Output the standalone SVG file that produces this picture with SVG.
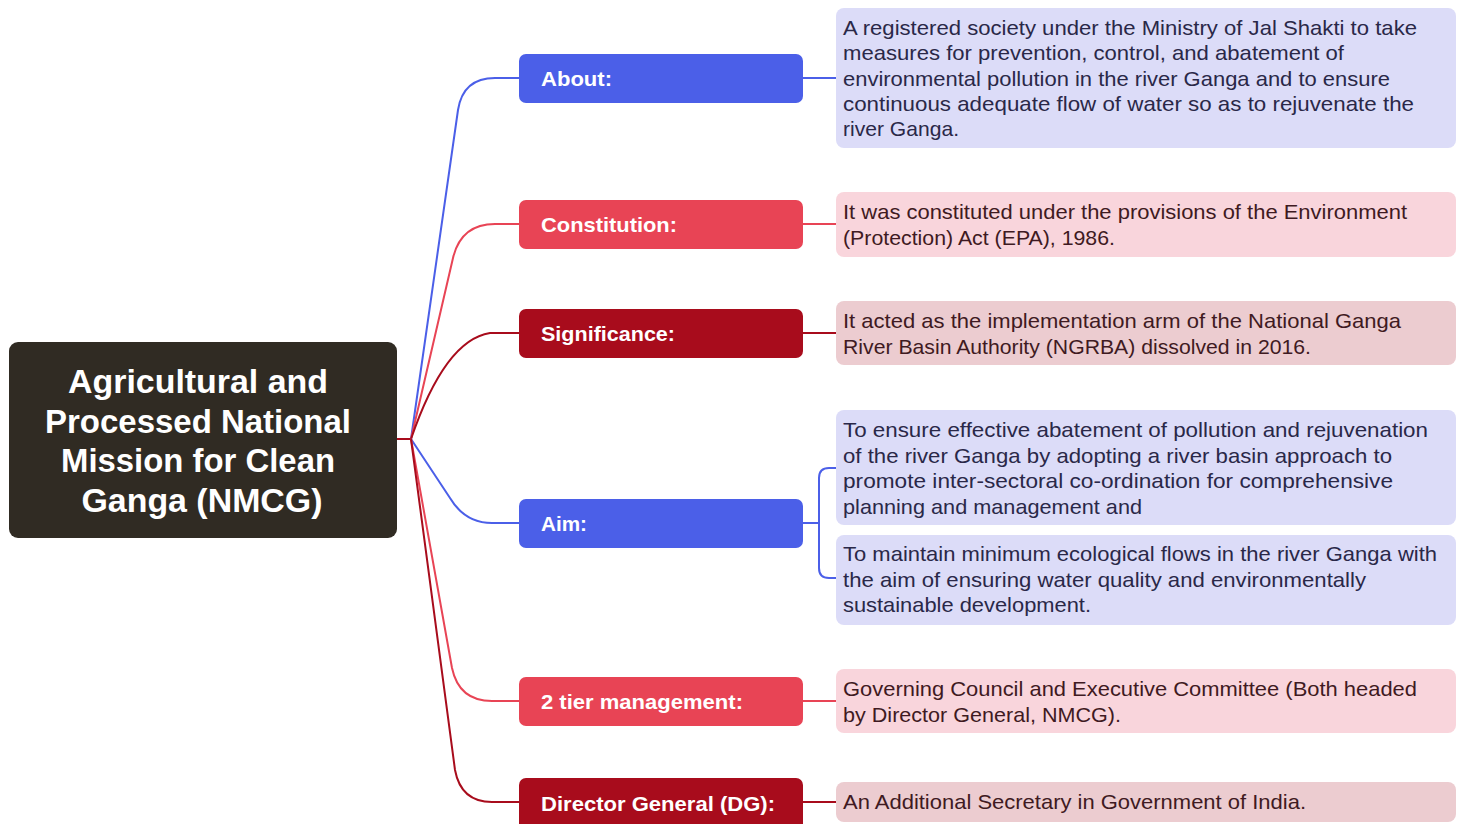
<svg xmlns="http://www.w3.org/2000/svg" width="1461" height="824" viewBox="0 0 1461 824">
<style>
.root{fill:#302b23}
.rt{font-family:"Liberation Sans",Arial,sans-serif;font-weight:bold;font-size:33px;fill:#fff;text-anchor:middle}
.bt{font-family:"Liberation Sans",Arial,sans-serif;font-weight:bold;font-size:21px;fill:#fff}
.lt{font-family:"Liberation Sans",Arial,sans-serif;font-size:21px;fill:#2a2848}
.lp{font-family:"Liberation Sans",Arial,sans-serif;font-size:21px;fill:#3f1a22}
.blue{fill:#4b5fe8}.red{fill:#e84455}.dred{fill:#a80c1c}
.lav{fill:#dcdcf8}.pink{fill:#f9d5dc}.dpink{fill:#ecccd0}
.cb{stroke:#4b5fe8}.cr{stroke:#e84455}.cd{stroke:#a80c1c}
#connectors path{fill:none;stroke-width:2}
</style>
<rect width="1461" height="824" fill="#fff"/>
<g id="connectors">
<path class="cd" d="M396 439 H411"/>
<path class="cb" d="M411 439 L458 110 Q463 78 495 78 H519"/>
<path class="cr" d="M411 439 L453 258 Q461 224 495 224 H519"/>
<path class="cd" d="M411 439 Q445 340 490 333 H519"/>
<path class="cb" d="M411 439 L450 498 Q465 523 492 523 H519"/>
<path class="cr" d="M411 439 L452 668 Q459 701 492 701 H519"/>
<path class="cd" d="M411 439 L455 770 Q461 802 492 802 H519"/>
<path class="cb" d="M803 78 H836"/>
<path class="cr" d="M803 224 H836"/>
<path class="cd" d="M803 333 H836"/>
<path class="cb" d="M803 523 H819 M836 468 H829 Q819 468 819 478 V568 Q819 578 829 578 H836"/>
<path class="cr" d="M803 701 H836"/>
<path class="cd" d="M803 802 H836"/>
</g>
<g id="root">
<rect class="root" x="9" y="342" width="388" height="196" rx="9"/>
<text class="rt" x="198" y="393" textLength="260" lengthAdjust="spacingAndGlyphs">Agricultural and</text>
<text class="rt" x="198" y="433" textLength="306" lengthAdjust="spacingAndGlyphs">Processed National</text>
<text class="rt" x="198" y="472" textLength="274" lengthAdjust="spacingAndGlyphs">Mission for Clean</text>
<text class="rt" x="202" y="512" textLength="241" lengthAdjust="spacingAndGlyphs">Ganga (NMCG)</text>
</g>
<g id="about">
<rect class="blue" x="519" y="54" width="284" height="49" rx="7"/>
<text class="bt" x="541" y="86" textLength="71" lengthAdjust="spacingAndGlyphs">About:</text>
</g>
<g id="about-leaf">
<rect class="lav" x="836" y="8" width="620" height="140" rx="8"/>
<text class="lt" x="843" y="35" textLength="574" lengthAdjust="spacingAndGlyphs">A registered society under the Ministry of Jal Shakti to take</text>
<text class="lt" x="843" y="60" textLength="501" lengthAdjust="spacingAndGlyphs">measures for prevention, control, and abatement of</text>
<text class="lt" x="843" y="86" textLength="547" lengthAdjust="spacingAndGlyphs">environmental pollution in the river Ganga and to ensure</text>
<text class="lt" x="843" y="111" textLength="571" lengthAdjust="spacingAndGlyphs">continuous adequate flow of water so as to rejuvenate the</text>
<text class="lt" x="843" y="136" textLength="116" lengthAdjust="spacingAndGlyphs">river Ganga.</text>
</g>
<g id="constitution">
<rect class="red" x="519" y="200" width="284" height="49" rx="7"/>
<text class="bt" x="541" y="232" textLength="136" lengthAdjust="spacingAndGlyphs">Constitution:</text>
</g>
<g id="constitution-leaf">
<rect class="pink" x="836" y="192" width="620" height="65" rx="8"/>
<text class="lp" x="843" y="219" textLength="564" lengthAdjust="spacingAndGlyphs">It was constituted under the provisions of the Environment</text>
<text class="lp" x="843" y="245" textLength="272" lengthAdjust="spacingAndGlyphs">(Protection) Act (EPA), 1986.</text>
</g>
<g id="significance">
<rect class="dred" x="519" y="309" width="284" height="49" rx="7"/>
<text class="bt" x="541" y="341" textLength="134" lengthAdjust="spacingAndGlyphs">Significance:</text>
</g>
<g id="significance-leaf">
<rect class="dpink" x="836" y="301" width="620" height="64" rx="8"/>
<text class="lp" x="843" y="328" textLength="558" lengthAdjust="spacingAndGlyphs">It acted as the implementation arm of the National Ganga</text>
<text class="lp" x="843" y="354" textLength="468" lengthAdjust="spacingAndGlyphs">River Basin Authority (NGRBA) dissolved in 2016.</text>
</g>
<g id="aim">
<rect class="blue" x="519" y="499" width="284" height="49" rx="7"/>
<text class="bt" x="541" y="531" textLength="46" lengthAdjust="spacingAndGlyphs">Aim:</text>
</g>
<g id="aim-leaf-1">
<rect class="lav" x="836" y="410" width="620" height="115" rx="8"/>
<text class="lt" x="843" y="437" textLength="585" lengthAdjust="spacingAndGlyphs">To ensure effective abatement of pollution and rejuvenation</text>
<text class="lt" x="843" y="463" textLength="549" lengthAdjust="spacingAndGlyphs">of the river Ganga by adopting a river basin approach to</text>
<text class="lt" x="843" y="488" textLength="550" lengthAdjust="spacingAndGlyphs">promote inter-sectoral co-ordination for comprehensive</text>
<text class="lt" x="843" y="514" textLength="299" lengthAdjust="spacingAndGlyphs">planning and management and</text>
</g>
<g id="aim-leaf-2">
<rect class="lav" x="836" y="535" width="620" height="90" rx="8"/>
<text class="lt" x="843" y="561" textLength="594" lengthAdjust="spacingAndGlyphs">To maintain minimum ecological flows in the river Ganga with</text>
<text class="lt" x="843" y="587" textLength="523" lengthAdjust="spacingAndGlyphs">the aim of ensuring water quality and environmentally</text>
<text class="lt" x="843" y="612" textLength="248" lengthAdjust="spacingAndGlyphs">sustainable development.</text>
</g>
<g id="tier">
<rect class="red" x="519" y="677" width="284" height="49" rx="7"/>
<text class="bt" x="541" y="709" textLength="202" lengthAdjust="spacingAndGlyphs">2 tier management:</text>
</g>
<g id="tier-leaf">
<rect class="pink" x="836" y="669" width="620" height="64" rx="8"/>
<text class="lp" x="843" y="696" textLength="574" lengthAdjust="spacingAndGlyphs">Governing Council and Executive Committee (Both headed</text>
<text class="lp" x="843" y="722" textLength="278" lengthAdjust="spacingAndGlyphs">by Director General, NMCG).</text>
</g>
<g id="dg">
<rect class="dred" x="519" y="778" width="284" height="52" rx="7"/>
<text class="bt" x="541" y="811" textLength="234" lengthAdjust="spacingAndGlyphs">Director General (DG):</text>
</g>
<g id="dg-leaf">
<rect class="dpink" x="836" y="782" width="620" height="40" rx="8"/>
<text class="lp" x="843" y="809" textLength="463" lengthAdjust="spacingAndGlyphs">An Additional Secretary in Government of India.</text>
</g>
</svg>
